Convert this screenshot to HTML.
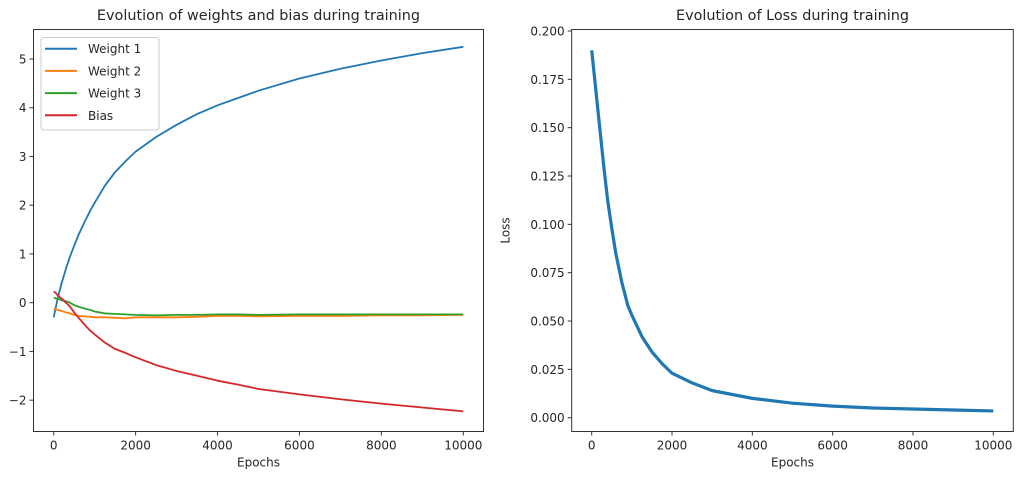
<!DOCTYPE html>
<html><head><meta charset="utf-8"><style>
body{margin:0;background:#fff}
svg{display:block;font-family:"DejaVu Sans","Liberation Sans",sans-serif}
</style></head><body>
<svg id="chart" width="1033" height="484" viewBox="0 0 1033 484"></svg>
<script>
const epochsW = [0,50,100,200,300,400,500,600,750,900,1000,1250,1500,1750,2000,2500,3000,3500,4000,4500,5000,6000,7000,8000,9000,10000];
const weight1 = [-0.3,-0.1,0.1,0.42,0.7,0.95,1.17,1.38,1.65,1.9,2.05,2.4,2.68,2.9,3.1,3.4,3.65,3.87,4.05,4.2,4.35,4.6,4.8,4.97,5.12,5.25];
const weight2 = [-0.12,-0.13,-0.15,-0.17,-0.2,-0.22,-0.25,-0.27,-0.28,-0.29,-0.3,-0.3,-0.31,-0.32,-0.3,-0.3,-0.3,-0.29,-0.27,-0.27,-0.28,-0.27,-0.27,-0.26,-0.26,-0.25];
const weight3 = [0.1,0.09,0.08,0.05,0.03,0.0,-0.05,-0.08,-0.12,-0.15,-0.18,-0.22,-0.23,-0.24,-0.25,-0.26,-0.25,-0.25,-0.24,-0.24,-0.25,-0.24,-0.24,-0.24,-0.24,-0.24];
const bias = [0.23,0.2,0.15,0.08,0.0,-0.08,-0.2,-0.3,-0.45,-0.58,-0.65,-0.82,-0.95,-1.03,-1.12,-1.28,-1.4,-1.5,-1.6,-1.68,-1.77,-1.88,-1.98,-2.07,-2.15,-2.23];
const epochsL = [0,50,100,150,200,250,300,400,500,600,750,900,1000,1250,1500,1750,2000,2500,3000,3500,4000,5000,6000,7000,8000,9000,10000];
const loss = [0.19,0.18,0.17,0.16,0.15,0.14,0.13,0.112,0.098,0.085,0.07,0.058,0.053,0.042,0.034,0.028,0.023,0.018,0.014,0.012,0.01,0.0075,0.006,0.005,0.0045,0.004,0.0035];
const xTicks = [0,2000,4000,6000,8000,10000];
const yTicksW = [-2,-1,0,1,2,3,4,5];
const yTicksL = [0,0.025,0.05,0.075,0.1,0.125,0.15,0.175,0.2];
const seriesNames = ["Weight 1","Weight 2","Weight 3","Bias"];
const colors = ["#1f77b4","#ff7f0e","#2ca02c","#d62728"];

const NS="http://www.w3.org/2000/svg";
const svg=document.getElementById('chart');
function mk(tag,attrs,parent){const e=document.createElementNS(NS,tag);for(const k in attrs)e.setAttribute(k,attrs[k]);(parent||svg).appendChild(e);return e;}
function lin(d0,d1,r0,r1){return v=>r0+(v-d0)*(r1-r0)/(d1-d0);}

function axes(box,xs,ys,yt,fmt,title,ylabel,prefix){
  const g=mk('g',{});
  
  
  const fr=mk('rect',{x:box.x0,y:box.y0,width:box.x1-box.x0,height:box.y1-box.y0,fill:'none',stroke:'#333','stroke-width':1},g);
  
  xTicks.forEach(t=>{const x=xs(t);
    mk('line',{x1:x,x2:x,y1:box.y1,y2:box.y1+4,stroke:'#333'},g);
    const tx=mk('text',{x:x,y:box.y1+18,'text-anchor':'middle','font-size':12,fill:'#262626'},g);tx.textContent=t;
    });
  yt.forEach(t=>{const y=ys(t);
    mk('line',{x1:box.x0-4,x2:box.x0,y1:y,y2:y,stroke:'#333'},g);
    const tx=mk('text',{x:box.x0-7,y:y+4.5,'text-anchor':'end','font-size':12,fill:'#262626'},g);tx.textContent=fmt(t);
    });
  const xl=mk('text',{x:(box.x0+box.x1)/2,y:box.y1+35,'text-anchor':'middle','font-size':12,fill:'#262626'},g);xl.textContent='Epochs';
  
  const tt=mk('text',{x:(box.x0+box.x1)/2,y:20,'text-anchor':'middle','font-size':14.4,fill:'#262626'},g);tt.textContent=title;
  
  if(ylabel){const yl=mk('text',{x:0,y:0,'text-anchor':'middle','font-size':12,fill:'#262626',transform:`translate(${box.x0-62},${(box.y0+box.y1)/2}) rotate(-90)`},g);yl.textContent=ylabel;
    }
}
function line(xs,ys,X,Y,color,w,name){
  const d=X.map((x,i)=>(i?'L':'M')+xs(x).toFixed(2)+','+ys(Y[i]).toFixed(2)).join('');
  const p=mk('path',{d:d,fill:'none',stroke:color,'stroke-width':w,'stroke-linejoin':'round'});
  
}
// left
const boxL={x0:33.5,x1:483.5,y0:29.5,y1:431.5};
const xsL=lin(0,10000,53.7,463.3), ysL=lin(0,5,302.7,59);
axes(boxL,xsL,ysL,yTicksW,t=>t<0?'\u2212'+(-t):String(t),'Evolution of weights and bias during training',null,'weights');
[weight1,weight2,weight3,bias].forEach((s,i)=>line(xsL,ysL,epochsW,s,colors[i],1.8,'line-'+seriesNames[i].toLowerCase().replace(' ','-')));
// legend
const lg=mk('g',{});

mk('rect',{x:41,y:37.5,width:118,height:92.5,rx:3,fill:'#fff','fill-opacity':0.8,stroke:'#ccc'},lg);
seriesNames.forEach((n,i)=>{const y=48.7+i*22.2;
  const e=mk('g',{},lg);
  mk('line',{x1:45,x2:77,y1:y,y2:y,stroke:colors[i],'stroke-width':2},e);
  const t=mk('text',{x:88,y:y+4.5,'font-size':12,fill:'#262626'},e);t.textContent=n;});
// right
const boxR={x0:571.7,x1:1013.3,y0:29.5,y1:431.5};
const xsR=lin(0,10000,591.7,993.3), ysR=lin(0,0.2,417.7,31);
axes(boxR,xsR,ysR,yTicksL,t=>t.toFixed(3),'Evolution of Loss during training','Loss','loss');
line(xsR,ysR,epochsL,loss,colors[0],3.2,'line-loss');
</script>
</body></html>
